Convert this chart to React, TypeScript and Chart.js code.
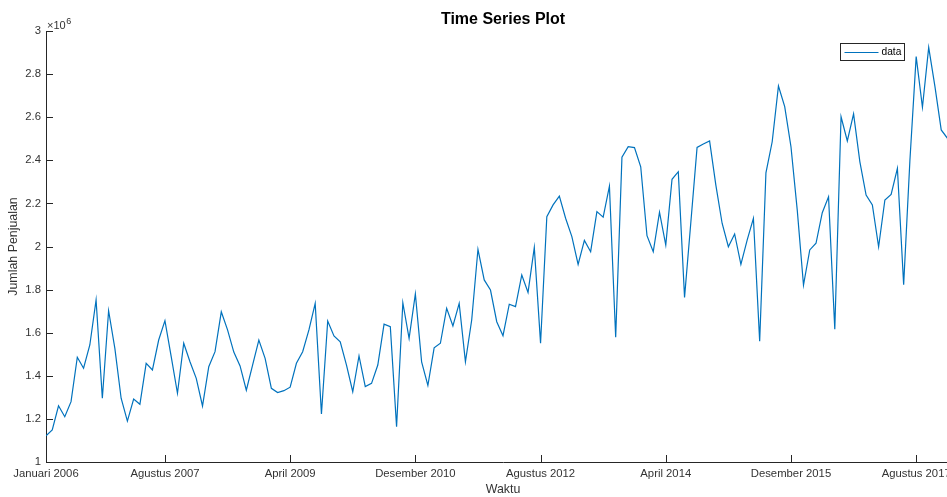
import React, { useEffect, useRef } from "react";
import { Chart, registerables } from "chart.js";

Chart.register(...registerables);

const TITLE = "Time Series Plot";
const X_TITLE = "Waktu";
const Y_TITLE = "Jumlah Penjualan";
const SERIES_LABEL = "data";

// Monthly sales, Januari 2006 onwards
const sales2006 = [1122000, 1149000, 1261000, 1210000, 1280000, 1486000, 1435000, 1543000, 1752000, 1296000, 1702000, 1527000];
const sales2007 = [1296000, 1190000, 1292000, 1268000, 1458000, 1427000, 1566000, 1656000, 1489000, 1319000, 1551000, 1465000];
const sales2008 = [1388000, 1260000, 1442000, 1512000, 1697000, 1613000, 1510000, 1446000, 1333000, 1450000, 1566000, 1481000];
const sales2009 = [1342000, 1322000, 1331000, 1347000, 1458000, 1512000, 1613000, 1736000, 1223000, 1654000, 1585000, 1558000];
const sales2010 = [1450000, 1326000, 1492000, 1350000, 1365000, 1450000, 1640000, 1628000, 1164000, 1739000, 1574000, 1780000];
const sales2011 = [1465000, 1355000, 1530000, 1551000, 1713000, 1631000, 1736000, 1465000, 1659000, 1987000, 1845000, 1798000];
const sales2012 = [1651000, 1586000, 1732000, 1721000, 1868000, 1787000, 1996000, 1551000, 2138000, 2193000, 2234000, 2131000];
const sales2013 = [2046000, 1917000, 2028000, 1976000, 2162000, 2136000, 2280000, 1579000, 2414000, 2463000, 2459000, 2370000];
const sales2014 = [2050000, 1976000, 2159000, 2007000, 2312000, 2347000, 1764000, 2110000, 2460000, 2476000, 2490000, 2285000];
const sales2015 = [2108000, 1999000, 2058000, 1917000, 2030000, 2131000, 1561000, 2342000, 2486000, 2745000, 2649000, 2463000];
const sales2016 = [2170000, 1821000, 1984000, 2015000, 2157000, 2231000, 1616000, 2602000, 2490000, 2615000, 2394000, 2239000];
const sales2017 = [2193000, 1999000, 2216000, 2242000, 2363000, 1823000, 2400000, 2881000, 2646000, 2924000, 2742000, 2541000];
const sales2018 = [2502000, 2050000, 2300000];

// x ticks: month index from Januari 2006
const xTickIndex = [0, 19, 39, 59, 79, 99, 119, 139];
const xTickLabels = [
  "Januari 2006",
  "Agustus 2007",
  "April 2009",
  "Desember 2010",
  "Agustus 2012",
  "April 2014",
  "Desember 2015",
  "Agustus 2017",
];
const xMin = 0;
const xMax = 146;

const yMin = 1000000;
const yMax = 3000000;
const yStep = 200000;
const yExponentBase = "×10";
const yExponent = "6";

const FONT = "'Liberation Sans', Arial, Helvetica, sans-serif";
const AXIS_COLOR = "#262626";
const TEXT_COLOR = "#333333";
const LINE_COLOR = "#0072BD";

const allSales = [
  ...sales2006, ...sales2007, ...sales2008, ...sales2009, ...sales2010,
  ...sales2011, ...sales2012, ...sales2013, ...sales2014, ...sales2015,
  ...sales2016, ...sales2017, ...sales2018,
];

const matlabDecor = {
  id: "matlabDecor",
  afterDraw(chart: any) {
    const ctx = chart.ctx;
    const area = chart.chartArea;
    const xs = chart.scales.x;
    const ys = chart.scales.y;
    ctx.save();
    // inward tick marks
    ctx.strokeStyle = AXIS_COLOR;
    ctx.lineWidth = 1;
    ctx.beginPath();
    ys.ticks.forEach((t: any) => {
      const y = Math.round(ys.getPixelForValue(t.value)) + 0.5;
      ctx.moveTo(area.left, y);
      ctx.lineTo(area.left + 7, y);
    });
    xs.ticks.forEach((t: any) => {
      const x = Math.round(xs.getPixelForValue(t.value)) + 0.5;
      ctx.moveTo(x, area.bottom);
      ctx.lineTo(x, area.bottom - 7);
    });
    ctx.stroke();

    // title
    ctx.fillStyle = "#000000";
    ctx.font = `bold 16px ${FONT}`;
    ctx.textAlign = "center";
    ctx.textBaseline = "alphabetic";
    ctx.fillText(TITLE, (area.left + area.right) / 2, 23.5);

    // exponent
    ctx.fillStyle = TEXT_COLOR;
    ctx.textAlign = "left";
    ctx.font = `11px ${FONT}`;
    ctx.fillText(yExponentBase, area.left + 1, 28.5);
    const w = ctx.measureText(yExponentBase).width;
    ctx.font = `9px ${FONT}`;
    ctx.fillText(yExponent, area.left + 1 + w + 0.5, 24);

    // legend
    const lx = 840.5, ly = 43.5, lw = 64, lh = 17;
    ctx.fillStyle = "#ffffff";
    ctx.fillRect(lx, ly, lw, lh);
    ctx.strokeStyle = AXIS_COLOR;
    ctx.lineWidth = 1;
    ctx.strokeRect(lx, ly, lw, lh);
    ctx.strokeStyle = LINE_COLOR;
    ctx.lineWidth = 1.2;
    ctx.beginPath();
    ctx.moveTo(lx + 4, ly + 9);
    ctx.lineTo(lx + 38, ly + 9);
    ctx.stroke();
    ctx.fillStyle = "#000000";
    ctx.font = `10.2px ${FONT}`;
    ctx.textBaseline = "middle";
    ctx.fillText(chart.data.datasets[0].label, lx + 41, ly + 9);
    ctx.restore();
  },
};

export default function App() {
  const canvasRef = useRef<HTMLCanvasElement | null>(null);

  useEffect(() => {
    if (!canvasRef.current) return;
    const points = allSales.map((v, i) => ({ x: i, y: v }));
    const chart = new Chart(canvasRef.current, {
      type: "line",
      data: {
        datasets: [
          {
            label: SERIES_LABEL,
            data: points,
            borderColor: LINE_COLOR,
            borderWidth: 1.2,
            pointRadius: 0,
            tension: 0,
            fill: false,
          },
        ],
      },
      options: {
        responsive: false,
        animation: false,
        devicePixelRatio: 1,
        layout: { padding: { top: 31, left: 0, right: 30, bottom: 0 } },
        plugins: {
          legend: { display: false },
          title: { display: false },
          tooltip: { enabled: false },
        },
        scales: {
          x: {
            type: "linear",
            min: xMin,
            max: xMax,
            grid: { display: false, drawTicks: false },
            border: { display: true, color: AXIS_COLOR, width: 1 },
            afterBuildTicks: (scale: any) => {
              scale.ticks = xTickIndex.map((v) => ({ value: v }));
            },
            afterFit: (scale: any) => {
              scale.height = 35;
            },
            ticks: {
              autoSkip: false,
              maxRotation: 0,
              minRotation: 0,
              padding: 5,
              color: TEXT_COLOR,
              font: { family: FONT, size: 11.3 },
              callback: (_v: any, idx: number) => xTickLabels[idx],
            },
            title: {
              display: true,
              text: X_TITLE,
              color: TEXT_COLOR,
              font: { family: FONT, size: 12.4 },
              padding: { top: 0, bottom: 0 },
            },
          },
          y: {
            type: "linear",
            min: yMin,
            max: yMax,
            grid: { display: false, drawTicks: false },
            border: { display: true, color: AXIS_COLOR, width: 1 },
            afterFit: (scale: any) => {
              scale.width = 46;
            },
            ticks: {
              stepSize: yStep,
              padding: 5,
              color: TEXT_COLOR,
              font: { family: FONT, size: 11.3 },
              callback: (v: any) => String(Number((Number(v) / 1e6).toFixed(1))),
            },
            title: {
              display: true,
              text: Y_TITLE,
              color: TEXT_COLOR,
              font: { family: FONT, size: 12.4 },
              padding: { top: 6, bottom: 0 },
            },
          },
        },
      },
      plugins: [matlabDecor],
    });
    return () => chart.destroy();
  }, []);

  return (
    <div
      style={{
        position: "absolute",
        left: 0,
        top: 0,
        width: 947,
        height: 497,
        overflow: "hidden",
        background: "#ffffff",
      }}
    >
      <canvas
        ref={canvasRef}
        width={990}
        height={497}
        style={{ display: "block", width: 990, height: 497 }}
      />
    </div>
  );
}
